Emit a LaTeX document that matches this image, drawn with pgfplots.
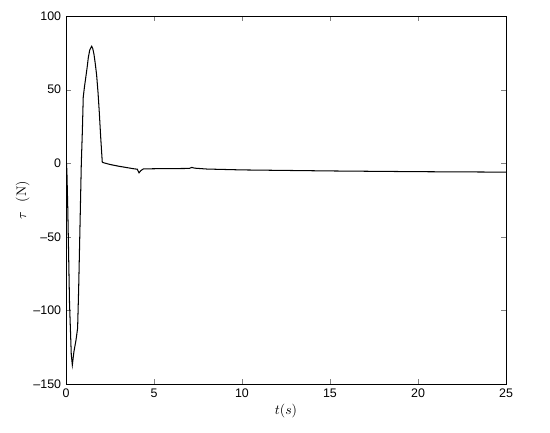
\documentclass[border=0pt]{standalone}
\usepackage{fontspec}
\newfontfamily\tickfont{Liberation Sans}
\usepackage{pgfplots}
\pgfplotsset{compat=1.18}
\begin{document}
\begin{tikzpicture}
\begin{axis}[
  scale only axis, width=11.2cm, height=9.367cm,
  xmin=0, xmax=25, ymin=-150, ymax=100,
  xtick={0,5,10,15,20,25}, ytick={-150,-100,-50,0,50,100},
  yticklabels={–150,–100,–50,0,50,100},
  tick align=inside, major tick length=0.13cm,
  tick label style={font=\tickfont\fontsize{9}{10}\selectfont},
  /pgf/number format/assume math mode=true,
  xlabel={$t(s)$}, ylabel={$\tau$\ \ (N)},
  label style={font=\fontsize{10}{12}\selectfont},
  xlabel style={yshift=2pt}, ylabel style={yshift=-4pt},
  axis line style={black, line width=0.5pt},
]
\addplot[black, line width=0.75pt, mark=none] coordinates {
(0,5) (0.05,-5) (0.1,-30) (0.2,-95) (0.3,-130) (0.36,-137) (0.45,-128)
(0.57,-120) (0.66,-112) (0.72,-85) (0.8,-40) (0.87,0) (0.93,22) (0.98,45)
(1.05,52) (1.12,58) (1.2,65) (1.27,72) (1.35,77) (1.46,79.5) (1.52,78)
(1.59,74) (1.66,68) (1.74,60) (1.82,48) (1.89,35) (1.97,18) (2.06,1)
(2.1,0.5) (2.5,-0.8) (3.0,-2) (3.5,-3) (3.9,-3.8) (4.05,-4) (4.15,-6.5)
(4.25,-5) (4.4,-3.8) (5,-3.7) (6,-3.6) (7,-3.5) (7.15,-2.8) (7.3,-3.3)
(8,-3.9) (10,-4.5) (15,-5.2) (20,-5.7) (25,-6)
};
\end{axis}
\path ([shift={(-1.68cm,-1.22cm)}]current axis.south west) rectangle ([shift={(1.12cm,0.41cm)}]current axis.north east);
\end{tikzpicture}
\end{document}
